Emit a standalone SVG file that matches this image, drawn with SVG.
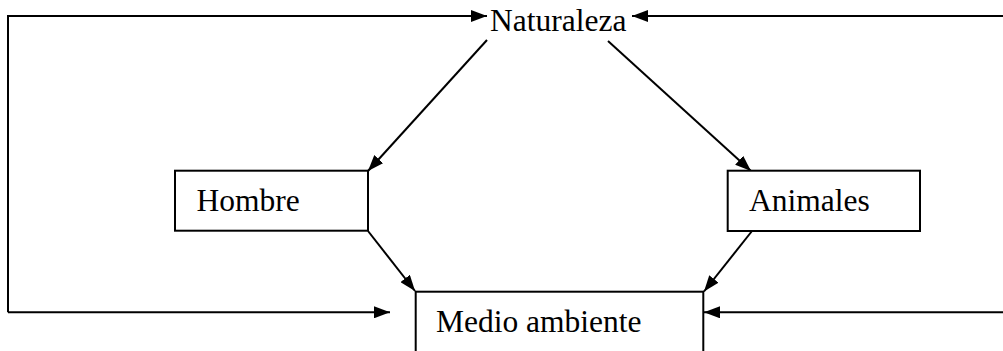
<svg xmlns="http://www.w3.org/2000/svg" width="1003" height="351" viewBox="0 0 1003 351">
<style>
.t{font-family:"Liberation Serif","Times New Roman",serif;font-size:31.5px;fill:#000}
.box{fill:#fff;stroke:#000;stroke-width:2}
.c{fill:none;stroke:#000;stroke-width:2}
</style>
<defs>
<marker id="ah" viewBox="0 0 16 12" refX="16" refY="6" markerWidth="16" markerHeight="12" markerUnits="userSpaceOnUse" orient="auto">
<path d="M0,0 L16,6 L0,12 Z" fill="#000"/>
</marker>
</defs>
<rect width="1003" height="351" fill="#fff"/>
<g id="connectors">
<polyline class="c" points="8,312.3 8,16 487,16" marker-end="url(#ah)"/>
<line class="c" x1="8" y1="312.3" x2="390" y2="312.3" marker-end="url(#ah)"/>
<line class="c" x1="1003" y1="16" x2="632" y2="16" marker-end="url(#ah)"/>
<line class="c" x1="1003" y1="312.3" x2="704" y2="312.3" marker-end="url(#ah)"/>
<line class="c" x1="487" y1="40" x2="368" y2="171" marker-end="url(#ah)"/>
<line class="c" x1="608" y1="41" x2="751" y2="171" marker-end="url(#ah)"/>
<line class="c" x1="368" y1="231" x2="415" y2="291" marker-end="url(#ah)"/>
<line class="c" x1="752" y1="231" x2="704" y2="291.5" marker-end="url(#ah)"/>
</g>
<g id="naturaleza">
<text class="t" x="490" y="31">Naturaleza</text>
</g>
<g id="hombre">
<rect class="box" x="175" y="170.7" width="193" height="60"/>
<text class="t" x="196.5" y="211">Hombre</text>
</g>
<g id="animales">
<rect class="box" x="727.7" y="170.7" width="192.3" height="60.3"/>
<text class="t" x="749" y="211">Animales</text>
</g>
<g id="medio-ambiente">
<rect class="box" x="415.7" y="291.7" width="287.6" height="80"/>
<text class="t" x="436" y="332.3">Medio ambiente</text>
</g>
</svg>
